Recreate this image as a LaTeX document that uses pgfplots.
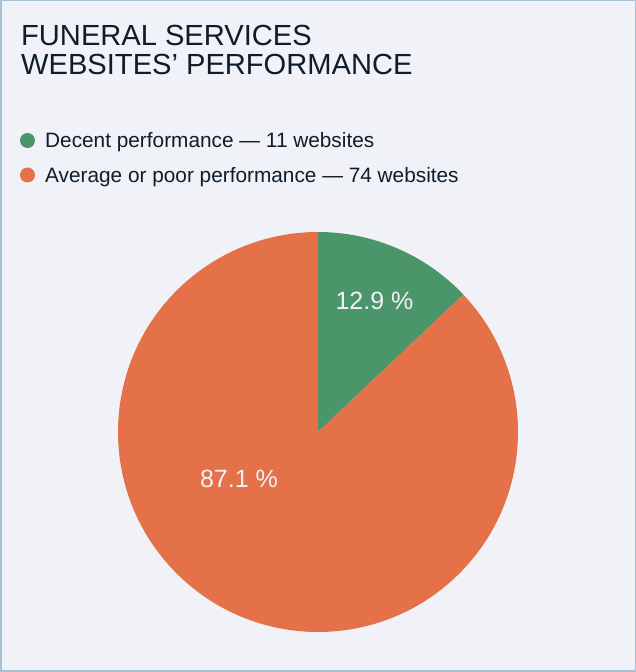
\documentclass[border=0pt]{standalone}
\usepackage{pgfplots}
\pgfplotsset{compat=1.18}
\usepackage{pgfplotstable}
\usepackage{fontspec}
\setmainfont{Liberation Sans}
\definecolor{bgcol}{HTML}{F0F2F7}
\definecolor{bordercol}{HTML}{A9C0D4}
\definecolor{txtcol}{HTML}{0F1C2B}
\definecolor{greencol}{HTML}{4A956A}
\definecolor{orangecol}{HTML}{E57149}
\definecolor{lblcol}{HTML}{F0F2F7}
\pgfplotstableread{
label value
Decent 11
Average 74
}\piedata
\begin{document}
\begin{tikzpicture}[x=1pt,y=1pt]
\pgfplotstablegetelem{0}{value}\of\piedata \let\va\pgfplotsretval
\pgfplotstablegetelem{1}{value}\of\piedata \let\vb\pgfplotsretval
\pgfmathsetmacro{\angA}{90-360*\va/(\va+\vb)}
\pgfmathsetmacro{\xA}{200*cos(\angA)}
\pgfmathsetmacro{\yA}{200*sin(\angA)}
\fill[bgcol] (0,0) rectangle (636,672);
\draw[bordercol,line width=1.5pt] (0.75,0.75) rectangle (635.25,671.25);
% title
\node[anchor=base west,inner sep=0,text=txtcol,font=\fontsize{29.1}{30}\selectfont] at (21,{672-46}) {FUNERAL SERVICES};
\node[anchor=base west,inner sep=0,text=txtcol,font=\fontsize{29.1}{30}\selectfont] at (21,{672-75}) {WEBSITES’ PERFORMANCE};
% legend
\fill[greencol] (27.5,{672-140.5}) circle (7.5);
\fill[orangecol] (27.5,{672-175}) circle (7.5);
\node[anchor=base west,inner sep=0,text=txtcol,font=\fontsize{20.8}{21}\selectfont] at (45,{672-148}) {Decent performance — 11 websites};
\node[anchor=base west,inner sep=0,text=txtcol,font=\fontsize{20.8}{21}\selectfont] at (45,{672-182.5}) {Average or poor performance — 74 websites};
\begin{axis}[x=1pt,y=1pt,anchor=origin,at={(318pt,240pt)},
  xmin=-200,xmax=200,ymin=-200,ymax=200,hide axis,clip=false]
\fill[greencol] (axis cs:0,0) -- (axis cs:0,200) arc[start angle=90,end angle=\angA,radius=200] -- cycle;
\fill[orangecol] (axis cs:0,0) -- (axis cs:\xA,\yA) arc[start angle=\angA,end angle=-270,radius=200] -- cycle;
\node[anchor=base,inner sep=0,text=lblcol,font=\fontsize{25}{26}\selectfont] at (axis cs:56.5,122) {12.9 \%};
\node[anchor=base,inner sep=0,text=lblcol,font=\fontsize{25}{26}\selectfont] at (axis cs:-79,-56) {87.1 \%};
\end{axis}
\end{tikzpicture}
\end{document}
